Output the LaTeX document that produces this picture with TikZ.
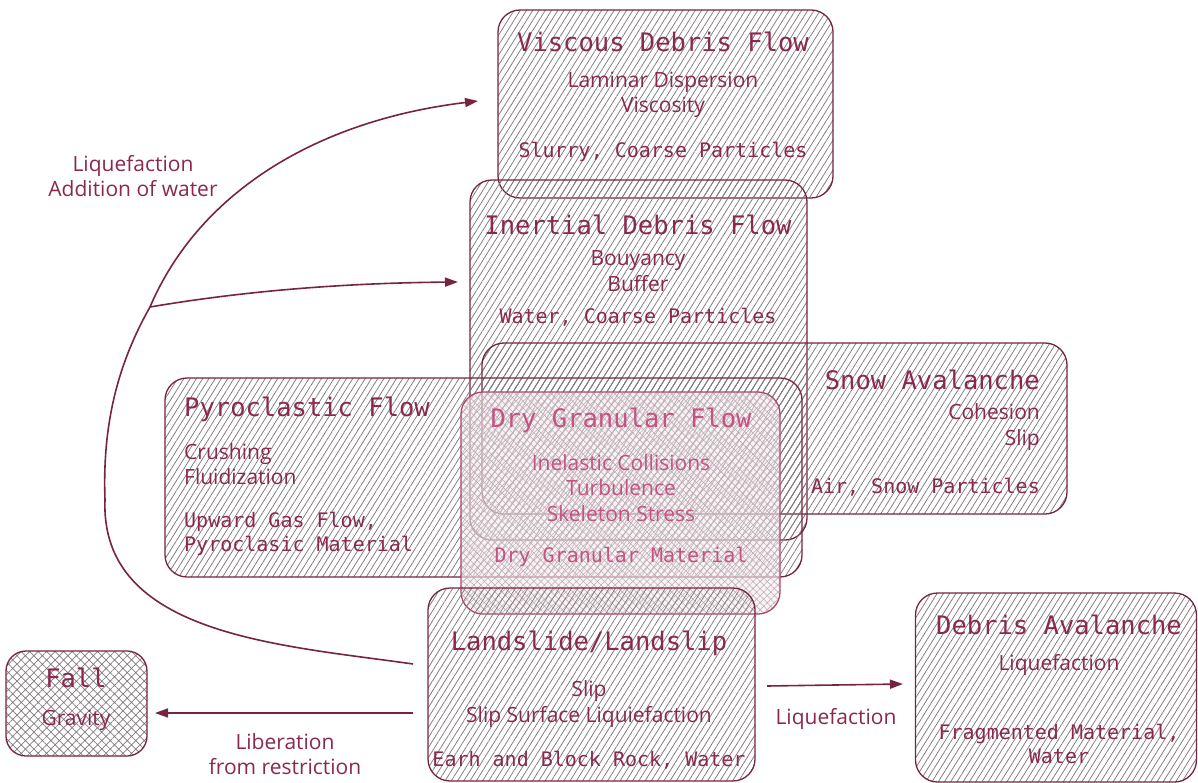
\documentclass[tikz,border=0pt]{standalone}
\usepackage{fontspec}
\usetikzlibrary{arrows.meta,patterns.meta}
\newfontfamily\monof{DejaVu Sans Mono}
\newfontfamily\handf{Open Sans}
\definecolor{wine}{RGB}{118,36,66}
\definecolor{winetext}{RGB}{138,40,80}
\definecolor{hatchgray}{RGB}{128,120,125}
\definecolor{drypink}{RGB}{198,82,132}
\tikzset{
  box/.style={draw=wine, line width=1.3pt, rounded corners=22pt, inner sep=0pt,
    pattern={Lines[angle=58,distance=5.3pt,line width=0.75pt]}, pattern color=hatchgray},
  crossbox/.style={draw=wine, line width=1.3pt, rounded corners=20pt, inner sep=0pt,
    pattern={Hatch[angle=45,distance=6pt,line width=0.7pt]}, pattern color=hatchgray},
  drybox/.style={draw=drypink!70!wine, line width=1.3pt, rounded corners=22pt, inner sep=0pt,
    preaction={fill={rgb,255:red,252;green,232;blue,240}, fill opacity=0.6},
    pattern={Hatch[angle=45,distance=5pt,line width=0.55pt]}, pattern color=gray!60},
  title/.style={font=\monof\fontsize{25.5}{28}\selectfont, text=winetext, inner sep=0pt},
  matter/.style={font=\monof\fontsize{20}{24.5}\selectfont, text=winetext, inner sep=0pt},
  hand/.style={font=\handf\fontsize{21}{25.5}\selectfont, text=winetext, inner sep=0pt},
  drytext/.style={text=drypink},
  link/.style={draw=wine, line width=1.6pt, -{Triangle[length=13pt,width=9pt]}},
}
\begin{document}
\begin{tikzpicture}[x=1pt,y=-1pt]
\useasboundingbox (0,0) rectangle (1198,783);

% boxes, back to front
\node[box, minimum width=335pt, minimum height=188pt] (visc) at (665.5,104) {};
\node[box, minimum width=337pt, minimum height=360pt] (inert) at (638.5,360) {};
\node[box, minimum width=585pt, minimum height=171pt] (snow) at (774.5,428.5) {};
\node[box, minimum width=637pt, minimum height=199pt] (pyro) at (483.5,477.5) {};
\node[drybox, minimum width=319pt, minimum height=222pt] (dry) at (620.5,503) {};
\node[box, minimum width=327pt, minimum height=193pt] (land) at (591.5,684.5) {};
\node[box, minimum width=281pt, minimum height=189pt] (debav) at (1056,687.5) {};
\node[crossbox, minimum width=141pt, minimum height=105pt] (fall) at (76.5,703.5) {};

% Viscous Debris Flow
\node[title] (visc-t) at (663,42) {Viscous Debris Flow};
\node[hand, align=center] (visc-m) at (663,95) {Laminar Dispersion\\Viscosity};
\node[matter] (visc-s) at (663,152) {Slurry, Coarse Particles};

% Inertial Debris Flow
\node[title] (inert-t) at (638,225) {Inertial Debris Flow};
\node[hand, align=center] (inert-m) at (638,271) {Bouyancy\\Buffer};
\node[matter] (inert-s) at (638,317) {Water, Coarse Particles};

% Snow Avalanche
\node[title, anchor=east] (snow-t) at (1040,380) {Snow Avalanche};
\node[hand, align=right, anchor=east] (snow-m) at (1040,427) {Cohesion\\Slip};
\node[matter, anchor=east] (snow-s) at (1040,487) {Air, Snow Particles};

% Pyroclastic Flow
\node[title, anchor=west] (pyro-t) at (184,409) {Pyroclastic Flow};
\node[hand, align=left, anchor=west] (pyro-m) at (184,464) {Crushing\\Fluidization};
\node[matter, align=left, anchor=west] (pyro-s) at (184,534) {Upward Gas Flow,\\Pyroclasic Material};

% Dry Granular Flow
\node[title, drytext] (dry-t) at (621,420) {Dry Granular Flow};
\node[hand, drytext, align=center] (dry-m) at (621,488) {Inelastic Collisions\\Turbulence\\Skeleton Stress};
\node[matter, drytext] (dry-s) at (621,557) {Dry Granular Material};

% Landslide/Landslip
\node[title] (land-t) at (589,643) {Landslide/Landslip};
\node[hand, align=center] (land-m) at (589,704) {Slip\\Slip Surface Liquiefaction};
\node[matter] (land-s) at (589,760) {Earh and Block Rock, Water};

% Fall
\node[title] (fall-t) at (76,678) {Fall};
\node[hand] (fall-m) at (76,720) {Gravity};

% Debris Avalanche
\node[title] (debav-t) at (1059,625) {Debris Avalanche};
\node[hand] (debav-m) at (1059,665) {Liquefaction};
\node[matter, align=center] (debav-s) at (1059,744) {Fragmented Material,\\Water};

% connector end points
\coordinate (c-start) at (413,664);
\coordinate (c-left) at (105,500);
\coordinate (c-fork) at (150,307);
\coordinate (c-visc) at (478,101);
\coordinate (c-inert) at (458,282);
\coordinate (c-fallfrom) at (413,713);
\coordinate (c-fallto) at (155,713);
\coordinate (c-avfrom) at (767,686);
\coordinate (c-avto) at (903,684);

% liquefaction paths from the landslide up to the debris flows
\draw[link] (c-start) .. controls (280,645) and (100,635) .. (c-left)
  .. controls (102,420) and (120,360) .. (c-fork)
  .. controls (200,190) and (320,120) .. (c-visc);
\draw[link] (c-fork) .. controls (250,290) and (350,283) .. (c-inert);
\draw[link] (c-fallfrom) -- (c-fallto);
\draw[link] (c-avfrom) -- (c-avto);

% connector labels
\node[hand, align=center] (lbl-water) at (133,176) {Liquefaction\\Addition of water};
\node[hand, align=center] (lbl-lib) at (285,754) {Liberation\\from restriction};
\node[hand] (lbl-liq) at (836,719) {Liquefaction};
\end{tikzpicture}
\end{document}
